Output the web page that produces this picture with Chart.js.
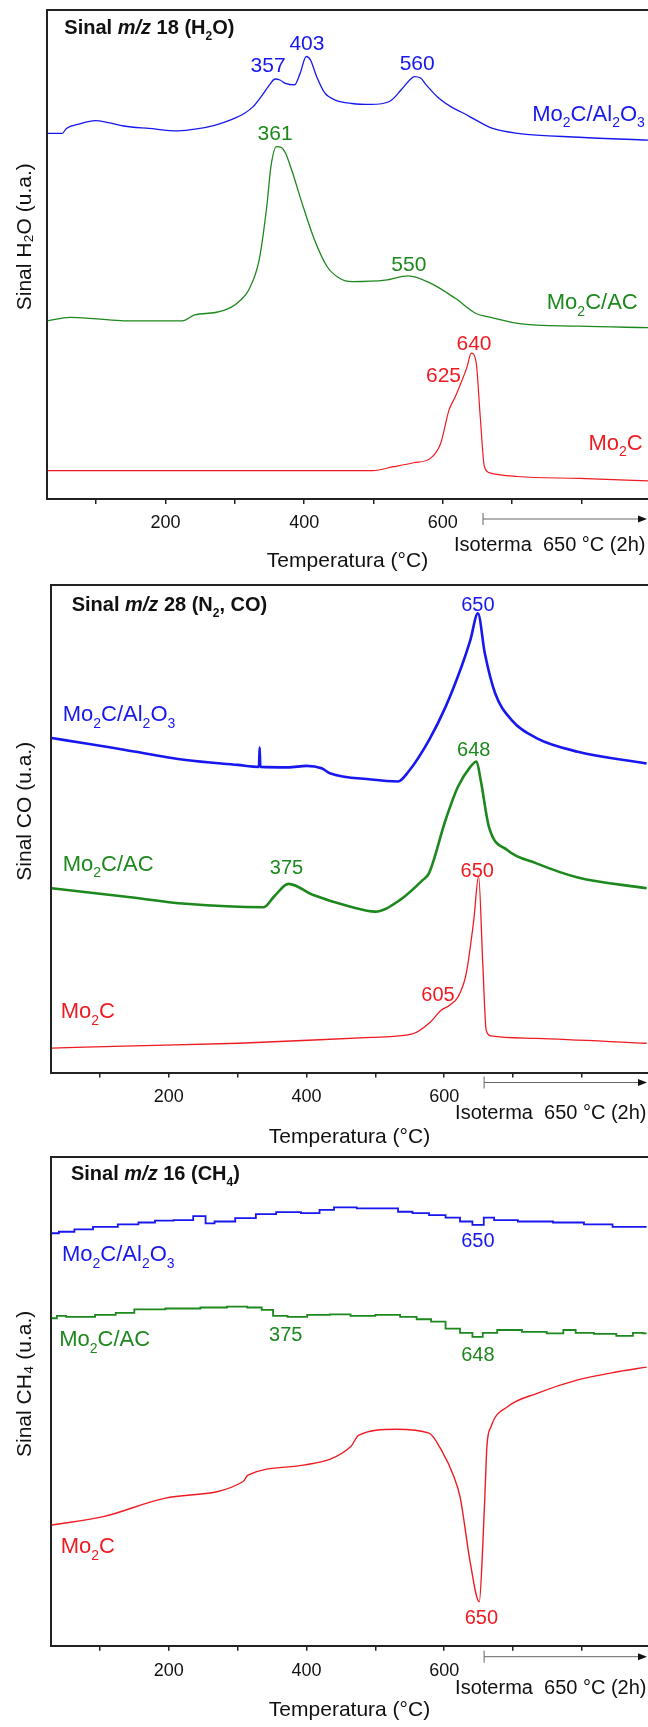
<!DOCTYPE html>
<html lang="pt">
<head>
<meta charset="UTF-8" />
<title>Sinais m/z 18, 28 e 16</title>
<script src="https://cdn.jsdelivr.net/npm/chart.js@4.4.1/dist/chart.umd.min.js"></script>
<style>
  body { margin: 0; background: #fff; overflow: hidden; }
  canvas.panel { position: absolute; left: 0; }
</style>
</head>
<body>
<canvas id="c18" class="panel" style="top:0" width="648" height="575"></canvas>
<canvas id="c28" class="panel" style="top:575px" width="648" height="575"></canvas>
<canvas id="c16" class="panel" style="top:1150px" width="648" height="577"></canvas>

<script>
// ---- data (temperature in °C, signal in arbitrary units 0-100 of the frame) ----
const tickLabels = [200, 400, 600];
const isoStart = 658;   // start of the 650 °C isotherm

// m/z 18 (H2O)
const h2oAl2O3 = [[30,74.7],[51,74.7],[57,75.7],[75,76.6],[99,77.3],[117,76.9],[140,76.2],[176,75.7],[218,75.2],[245,75.6],[272,76.4],[295,77.5],[314,78.8],[326,80.1],[338,82.2],[350,84.6],[358,85.8],[365,85.6],[373,84.9],[386,84.6],[394,86.9],[403,90.4],[409,89.7],[418,86.3],[430,82.9],[445,81.5],[469,80.8],[496,80.6],[523,81.2],[540,83.6],[553,85.7],[559,86.3],[568,86.0],[576,84.6],[594,81.9],[612,80.1],[630,78.8],[648,77.4],[672,75.7],[708,74.7],[797,73.9],[898,73.3]];
const h2oAC = [[30,36.4],[62,37.1],[100,36.8],[140,36.4],[224,36.4],[242,37.6],[272,38.1],[295,39.2],[308,40.6],[320,42.7],[335,48.8],[346,59.7],[352,67.9],[360,72.0],[366,71.9],[373,70.7],[382,67.2],[397,60.4],[415,52.9],[433,47.5],[451,45.1],[469,44.4],[517,44.7],[550,45.6],[582,44.1],[618,41.0],[648,37.9],[666,37.2],[708,35.9],[797,35.3],[898,35.0]];
const h2oMo2C = [[30,5.8],[200,5.8],[499,5.8],[529,6.6],[558,7.4],[582,8.3],[597,11.4],[609,18.2],[618,20.9],[627,24.0],[635,27.0],[641,29.8],[648,28.0],[654,16.8],[660,6.6],[669,5.3],[708,4.6],[797,4.2],[898,3.7]];

// m/z 28 (N2, CO)
const coAl2O3 = [[30,68.6],[80,67.5],[135,66.2],[225,64.1],[300,63.1],[331,62.7],[332,66.7],[333,62.7],[374,62.6],[400,62.9],[422,62.4],[434,61.4],[494,60.1],[533,59.7],[548,61.7],[578,68.2],[602,75.0],[626,83.6],[638,88.7],[649,94.2],[659,86.0],[674,77.8],[698,72.3],[734,68.6],[794,65.8],[894,63.4]];
const coAC = [[30,37.8],[135,36.1],[225,34.6],[338,33.9],[353,36.1],[374,38.7],[410,36.4],[464,34.0],[500,33.0],[536,35.4],[569,39.5],[578,40.9],[602,51.8],[620,58.6],[638,62.7],[647,63.8],[653,60.0],[665,50.4],[692,45.6],[734,42.9],[794,40.0],[894,37.8]];
const coMo2C = [[30,5.0],[135,5.4],[302,6.0],[494,7.2],[554,7.9],[578,10.1],[596,12.8],[608,13.8],[620,15.5],[632,20.3],[643,31.3],[650,40.3],[656,22.5],[661,8.7],[668,7.5],[734,7.0],[894,6.0]];

// m/z 16 (CH4)
const ch4Al2O3 = [[30,84.4],[51,84.7],[75,85.2],[105,85.7],[147,86.2],[165,86.6],[195,87.0],[219,87.1],[252,87.9],[255,86.4],[278,86.8],[315,87.5],[338,88.3],[374,88.7],[410,88.5],[428,89.2],[452,89.7],[494,89.5],[524,89.5],[542,88.8],[566,88.5],[590,88.1],[614,87.6],[632,86.8],[650,86.1],[665,87.6],[680,87.1],[734,86.8],[782,86.6],[824,86.2],[865,85.7],[894,85.7]];
const ch4AC = [[30,67.0],[45,67.5],[57,67.3],[75,67.3],[111,67.7],[135,68.1],[165,68.8],[225,69.0],[267,69.2],[302,69.4],[326,69.2],[344,68.7],[359,67.5],[386,67.3],[416,67.7],[452,67.8],[476,67.5],[524,67.7],[548,67.3],[572,66.8],[590,66.3],[614,64.9],[632,64.0],[650,63.2],[662,64.0],[692,64.6],[734,64.2],[764,63.9],[782,64.6],[800,64.0],[835,63.8],[865,63.4],[883,64.0],[894,63.9]];
const ch4Mo2C = [[30,24.7],[105,26.4],[195,30.2],[308,33.6],[315,34.9],[398,37.0],[464,40.7],[476,43.1],[530,44.3],[578,43.5],[596,40.0],[614,34.6],[623,30.5],[638,16.9],[651,9.0],[656,20.3],[660,33.9],[662,40.7],[668,44.8],[692,48.9],[734,51.6],[794,54.4],[854,56.1],[894,57.0]];

// text annotations: [text, x (°C), y (signal), colour, align]
const h2oLabels = [
  ['Sinal *m/z* 18 (H_2O)', 54, 96.5, 'k', 'l'],
  ['357', 348, 88.7, 'b', 'c'], ['403', 404, 93.2, 'b', 'c'], ['560', 563, 89.1, 'b', 'c'],
  ['Mo_2C/Al_2O_3', 729, 78.9, 'b', 'l'],
  ['361', 358, 74.9, 'g', 'c'], ['550', 551, 48.2, 'g', 'c'],
  ['Mo_2C/AC', 750, 40.4, 'g', 'l'],
  ['640', 645, 31.9, 'r', 'c'], ['625', 601, 25.5, 'r', 'c'],
  ['Mo_2C', 810, 11.7, 'r', 'l']
];
const coLabels = [
  ['Sinal *m/z* 28 (N_2, CO)', 59, 96.2, 'k', 'l'],
  ['650', 649, 96.1, 'b', 'c'],
  ['Mo_2C/Al_2O_3', 46, 73.7, 'b', 'l'],
  ['648', 643, 66.5, 'g', 'c'], ['375', 371, 42.2, 'g', 'c'],
  ['Mo_2C/AC', 46, 43.0, 'g', 'l'],
  ['650', 648, 41.5, 'r', 'c'], ['605', 591, 16.2, 'r', 'c'],
  ['Mo_2C', 43, 12.8, 'r', 'l']
];
const ch4Labels = [
  ['Sinal *m/z* 16 (CH_4)', 58, 96.7, 'k', 'l'],
  ['650', 649, 83.0, 'b', 'c'],
  ['Mo_2C/Al_2O_3', 45, 80.3, 'b', 'l'],
  ['Mo_2C/AC', 41, 62.9, 'g', 'l'],
  ['375', 370, 63.8, 'g', 'c'], ['648', 649, 59.8, 'g', 'c'],
  ['Mo_2C', 43, 20.6, 'r', 'l'],
  ['650', 654, 5.9, 'r', 'c']
];

// ---- styling ----
const FONT = "'Liberation Sans', Arial, Helvetica, sans-serif";
const COLORS = { b: '#1717ee', g: '#1d881d', r: '#ee1b22', k: '#111111' };
const X_MIN = 29, X_MAX = 896;

// text with _x subscripts and *italic* parts
function drawRich(ctx, str, x, y, size, bold, color, align) {
  const segs = [];
  let it = false;
  for (let i = 0; i < str.length; i++) {
    const ch = str[i];
    if (ch === '*') { it = !it; continue; }
    if (ch === '_') { segs.push({ t: str[++i], sub: true, it }); continue; }
    const last = segs[segs.length - 1];
    if (last && !last.sub && last.it === it) last.t += ch;
    else segs.push({ t: ch, sub: false, it });
  }
  const fontOf = s => `${s.it ? 'italic ' : ''}${bold ? 'bold ' : ''}${s.sub ? Math.round(size * 0.62) : size}px ${FONT}`;
  let w = 0;
  segs.forEach(s => { ctx.font = fontOf(s); s.w = ctx.measureText(s.t).width; w += s.w; });
  let cx = align === 'c' ? x - w / 2 : x;
  const base = y + size * 0.36;
  ctx.fillStyle = color;
  ctx.textAlign = 'left';
  ctx.textBaseline = 'alphabetic';
  segs.forEach(s => {
    ctx.font = fontOf(s);
    ctx.fillText(s.t, cx, s.sub ? base + size * 0.3 : base);
    cx += s.w;
  });
}

const annotate = {
  id: 'annotate',
  afterDraw(chart, args, opts) {
    const { ctx, chartArea } = chart;
    const xs = chart.scales.x, ys = chart.scales.y;
    ctx.save();
    opts.items.forEach(([text, vx, vy, c, align]) => {
      const isTitle = c === 'k';
      const size = isTitle ? 20 : (align === 'l' ? 22 : opts.numSize);
      drawRich(ctx, text, xs.getPixelForValue(vx), ys.getPixelForValue(vy), size, isTitle, COLORS[c], align);
    });
    // isotherm marker
    const x0 = xs.getPixelForValue(isoStart);
    const x1 = chart.width - 1;
    const ya = chartArea.bottom + opts.isoDy;
    ctx.strokeStyle = '#666';
    ctx.lineWidth = 1;
    ctx.beginPath();
    ctx.moveTo(x0, ya); ctx.lineTo(x1 - 6, ya);
    ctx.moveTo(x0, ya - 6); ctx.lineTo(x0, ya + 6);
    ctx.stroke();
    ctx.fillStyle = '#111';
    ctx.beginPath();
    ctx.moveTo(x1, ya); ctx.lineTo(x1 - 9, ya - 3.5); ctx.lineTo(x1 - 9, ya + 3.5);
    ctx.closePath();
    ctx.fill();
    ctx.font = `20px ${FONT}`;
    ctx.fillStyle = '#111';
    ctx.textAlign = 'left';
    ctx.textBaseline = 'middle';
    ctx.fillText('Isoterma  650 °C (2h)', x0 - 29, chartArea.bottom + opts.isoTextDy);
    ctx.restore();
  }
};

const panels = [
  { id: 'c18', padTop: 9.5, left: 47, axisH: 76, tickPad: 8, titlePad: 0.7, numSize: 21, isoDy: 20, isoTextDy: 46,
    yTitle: '      Sinal H₂O (u.a.)', labels: h2oLabels,
    series: [{ d: h2oAl2O3, c: 'b', w: 1.3 }, { d: h2oAC, c: 'g', w: 1.3 }, { d: h2oMo2C, c: 'r', w: 1.2 }] },
  { id: 'c28', padTop: 10, left: 51, axisH: 77.5, tickPad: 8.5, titlePad: 0.4, numSize: 20, isoDy: 10, isoTextDy: 40.5,
    yTitle: '      Sinal CO (u.a.)', labels: coLabels,
    series: [{ d: coAl2O3, c: 'b', w: 2.6 }, { d: coAC, c: 'g', w: 2.6 }, { d: coMo2C, c: 'r', w: 1.3 }] },
  { id: 'c16', padTop: 7, left: 51, axisH: 81.3, tickPad: 10, titlePad: 4.4, numSize: 20, isoDy: 11, isoTextDy: 42.3,
    yTitle: '      Sinal CH₄ (u.a.)', labels: ch4Labels,
    series: [{ d: ch4Al2O3, c: 'b', w: 1.8, step: true }, { d: ch4AC, c: 'g', w: 1.8, step: true }, { d: ch4Mo2C, c: 'r', w: 1.4 }] }
];

panels.forEach(p => {
  new Chart(document.getElementById(p.id), {
    type: 'line',
    data: {
      datasets: p.series.map(s => ({
        data: s.d.map(([x, y]) => ({ x, y })),
        xAxisID: 'x', yAxisID: 'y',
        borderColor: COLORS[s.c],
        borderWidth: s.w,
        pointRadius: 0,
        fill: false,
        stepped: s.step ? 'middle' : false,
        cubicInterpolationMode: 'monotone'
      }))
    },
    options: {
      responsive: false,
      animation: false,
      devicePixelRatio: 1,
      layout: { padding: { top: p.padTop, left: 0, right: 0, bottom: 0 } },
      plugins: {
        legend: { display: false },
        tooltip: { enabled: false },
        annotate: { items: p.labels, numSize: p.numSize, isoDy: p.isoDy, isoTextDy: p.isoTextDy }
      },
      scales: {
        x: {
          type: 'linear', position: 'bottom', min: X_MIN, max: X_MAX,
          afterFit: a => { a.height = p.axisH; },
          grid: { display: true, drawOnChartArea: false, drawTicks: true, tickLength: 5, color: '#222', lineWidth: 1.5 },
          border: { display: true, color: '#222', width: 2 },
          ticks: {
            stepSize: 100, autoSkip: false, includeBounds: false, maxRotation: 0,
            padding: p.tickPad, color: '#111', font: { family: FONT, size: 18 },
            callback: v => tickLabels.includes(v) ? String(v) : ''
          },
          title: { display: true, text: 'Temperatura (°C)', color: '#111', font: { family: FONT, size: 21 },
                   padding: { top: 0, bottom: p.titlePad } }
        },
        frameTop: {
          type: 'linear', position: 'top', axis: 'x',
          afterFit: a => { a.height = 0; },
          grid: { display: false },
          ticks: { display: false },
          border: { display: true, color: '#222', width: 2 }
        },
        y: {
          type: 'linear', position: 'left', min: 0, max: 100,
          afterFit: a => { a.width = p.left; },
          grid: { display: false },
          ticks: { display: false },
          border: { display: true, color: '#222', width: 2 },
          title: { display: true, text: p.yTitle, color: '#111', font: { family: FONT, size: 21 },
                   padding: { top: 13, bottom: 0 } }
        }
      }
    },
    plugins: [annotate]
  });
});
</script>
</body>
</html>
